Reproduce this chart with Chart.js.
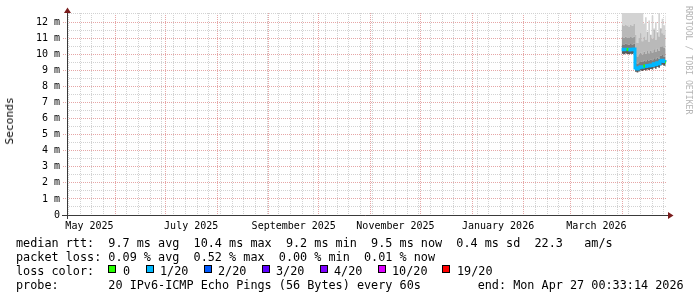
<!DOCTYPE html>
<html>
<head>
<meta charset="UTF-8"/>
<title>Smokeping — median rtt, last 360 days</title>
<script src="https://cdn.jsdelivr.net/npm/chart.js@4.4.3/dist/chart.umd.min.js"></script>
<style>
  *{box-sizing:border-box;margin:0;padding:0}
  body{background:#fff;width:697px;height:297px;overflow:hidden}
  #wrap{position:relative;width:697px;height:297px;font-family:'DejaVu Sans Mono',monospace;color:#000}
  #wrap canvas{position:absolute;left:0;top:0}
  .ylab{position:absolute;left:10px;top:121px;font-size:11.2px;line-height:12px;transform:translate(-50%,-50%) rotate(-90deg);white-space:nowrap}
  .wm{position:absolute;left:683.5px;top:6px;font-size:8.2px;line-height:10px;color:#b4b4b4;writing-mode:vertical-rl;white-space:nowrap}
  .lg{position:absolute;left:16px;font-size:11.8px;line-height:14px;white-space:pre}
  .sw{position:absolute;width:8px;height:8px;border:1px solid #000;top:265px}
  .sl{position:absolute;top:263.5px;font-size:11.8px;line-height:14px;white-space:pre}
</style>
</head>
<body>
<div id="wrap">
  <canvas id="c" width="697" height="297"></canvas>
  <div class="ylab">Seconds</div>
  <div class="wm">RRDTOOL / TOBI OETIKER</div>
  <div class="lg" style="top:235.5px">median rtt:  9.7 ms avg  10.4 ms max  9.2 ms min  9.5 ms now  0.4 ms sd  22.3   am/s</div>
  <div class="lg" style="top:249.5px">packet loss: 0.09 % avg  0.52 % max  0.00 % min  0.01 % now</div>
  <div class="lg" style="top:263.5px">loss color:</div>
  <div id="lossLegend"></div>
  <div class="lg" style="top:277.5px">probe:       20 IPv6-ICMP Echo Pings (56 Bytes) every 60s        end: Mon Apr 27 00:33:14 2026</div>
</div>

<script>
// ─── data (x = days since 1 May 2025, y = ms) ─────────────────────────────────
const days = [334.6, 335.6, 336.6, 337.6, 338.6, 339.6, 340.6, 341.6, 342.6, 343.6,
              344.6, 345.6, 346.6, 347.6, 348.6, 349.6, 350.6, 351.6, 352.6, 353.6,
              354.6, 355.6, 356.6, 357.6, 358.6, 359.6, 360.6, 361.0];

const rttMedian = [10.30, 10.27, 10.31, 10.29, 10.26, 10.30, 10.28, 10.32, 9.14, 9.08,
                   9.16, 9.22, 9.19, 9.27, 9.23, 9.30, 9.26, 9.33, 9.29, 9.41,
                   9.35, 9.46, 9.40, 9.57, 9.62, 9.54, 9.49, 9.49];
// smoke: ping spread around the median, bottom to top
const rttLo     = [10.02, 10.00, 10.04, 10.01, 10.00, 10.03, 10.01, 10.05, 8.90, 8.86,
                   8.93, 8.98, 8.95, 9.02, 8.99, 9.05, 9.02, 9.08, 9.04, 9.15,
                   9.10, 9.20, 9.15, 9.30, 9.35, 9.28, 9.24, 9.24];
const rttQ1     = [10.62, 10.60, 10.65, 10.61, 10.58, 10.63, 10.60, 10.66, 9.48, 9.40,
                   9.50, 9.55, 9.52, 9.60, 9.56, 9.64, 9.58, 9.66, 9.62, 9.74,
                   9.68, 9.80, 9.72, 9.90, 9.95, 9.86, 9.82, 9.82];
const rttQ2     = [11.05, 11.02, 11.08, 11.04, 11.00, 11.06, 11.03, 11.10, 10.05, 9.85,
                   10.00, 10.10, 9.98, 10.15, 10.02, 10.20, 10.06, 10.22, 10.10, 10.30,
                   10.15, 10.35, 10.22, 10.45, 10.50, 10.40, 10.35, 10.35];
const rttQ3     = [11.80, 11.75, 11.85, 11.78, 11.72, 11.82, 11.76, 11.88, 11.20, 10.70,
                   11.00, 11.30, 10.80, 11.10, 10.90, 11.40, 10.75, 11.20, 10.95, 11.50,
                   10.90, 11.35, 11.10, 11.60, 11.30, 11.20, 11.45, 11.45];
const rttHi     = [12.60, 12.60, 12.60, 12.60, 12.60, 12.60, 12.60, 12.60, 12.60, 12.60,
                   12.60, 12.60, 12.60, 11.90, 12.30, 11.40, 12.10, 11.20, 12.40, 11.60,
                   12.00, 11.30, 12.60, 11.50, 12.20, 11.80, 12.40, 12.40];
// index into lossColors: 0 = no loss, 1 = 1/20
const lossLevel = [1, 1, 1, 0, 1, 1, 1, 1, 1, 1,
                   1, 1, 1, 0, 1, 1, 1, 1, 1, 1,
                   1, 1, 1, 1, 1, 1, 0, 0];

const lossColors = ['#26ff00', '#00b8ff', '#0059ff', '#5e00ff', '#7e00ff', '#dd00ff', '#ff0000'];
const lossLabels = ['0', '1/20', '2/20', '3/20', '4/20', '10/20', '19/20'];

// ─── axes ─────────────────────────────────────────────────────────────────────
const xMin = 2.04, xMax = 361.8;
const monthStarts = [31, 61, 92, 123, 153, 184, 214, 245, 276, 304, 335];
const labelDays   = [15.5, 76.5, 138, 199, 260.5, 319.5];
const xLabels     = ['May 2025', 'July 2025', 'September 2025', 'November 2025', 'January 2026', 'March 2026'];
const firstWeek = 3, weekStep = 7;

const yMax = 12.56;
const yLabels = ['0', '1 m', '2 m', '3 m', '4 m', '5 m', '6 m', '7 m', '8 m', '9 m', '10 m', '11 m', '12 m'];

const PINK = '#e6a6a6', GRAY = '#d2d2d2';
const smokeColors = ['#5a5a5a', '#7c7c7c', '#9c9c9c', '#b9b9b9', '#d3d3d3'];

// legend swatches
const swX  = [108, 146, 204, 262, 319.5, 378, 442];
const lblX = [123, 160, 218, 276, 334, 392, 457];
const lossLegend = document.getElementById('lossLegend');
lossLabels.forEach((t, i) => {
  lossLegend.insertAdjacentHTML('beforeend',
    `<div class="sw" style="left:${swX[i]}px;background:${lossColors[i]}"></div>` +
    `<div class="sl" style="left:${lblX[i]}px">${t}</div>`);
});

// ─── datasets ─────────────────────────────────────────────────────────────────
const xy = arr => days.map((d, i) => ({ x: d, y: arr[i] }));
function band(arr, color) {
  return { data: xy(arr), stepped: true, borderWidth: 0, pointRadius: 0,
           fill: '-1', backgroundColor: color, order: 1 };
}

const datasets = [
  { data: xy(rttLo), stepped: true, borderWidth: 0, pointRadius: 0, fill: false, order: 1 },
  band(rttMedian, smokeColors[0]),
  band(rttQ1, smokeColors[1]),
  band(rttQ2, smokeColors[2]),
  band(rttQ3, smokeColors[3]),
  band(rttHi, smokeColors[4]),
  { data: xy(rttMedian), stepped: true, borderWidth: 3, pointRadius: 0, fill: false,
    borderCapStyle: 'butt', order: 0, borderColor: lossColors[1],
    segment: { borderColor: c => lossColors[lossLevel[c.p0DataIndex]] } },
];

// minor grid positions (skip the ones covered by a major line)
const weekTicks = () => {
  const t = [];
  for (let d = firstWeek; d <= xMax; d += weekStep)
    if (!monthStarts.includes(d)) t.push({ value: d });
  return t;
};
const halfTicks = () => yLabels.map((l, i) => ({ value: i + 0.5 })).filter(t => t.value < yMax);

// ─── axis lines + arrows ──────────────────────────────────────────────────────
const axisArrows = {
  id: 'axisArrows',
  afterDraw(chart) {
    const { ctx, chartArea: a } = chart;
    ctx.save();
    ctx.strokeStyle = '#3a3a3a';
    ctx.lineWidth = 1;
    ctx.beginPath();
    ctx.moveTo(a.left - 5, a.bottom + 0.5); ctx.lineTo(a.right + 2, a.bottom + 0.5);
    ctx.moveTo(a.left + 0.5, a.bottom + 4); ctx.lineTo(a.left + 0.5, a.top - 1);
    ctx.stroke();
    ctx.fillStyle = '#7a1c1c';
    ctx.beginPath();
    ctx.moveTo(a.left - 3, a.top); ctx.lineTo(a.left + 4, a.top); ctx.lineTo(a.left + 0.5, a.top - 5.5);
    ctx.closePath(); ctx.fill();
    ctx.beginPath();
    ctx.moveTo(a.right + 1, a.bottom - 3); ctx.lineTo(a.right + 1, a.bottom + 4); ctx.lineTo(a.right + 6.5, a.bottom + 0.5);
    ctx.closePath(); ctx.fill();
    ctx.restore();
  }
};

const MONO = { family: "'DejaVu Sans Mono', monospace", size: 10 };
// grid-only scales: zero size, placed on the top/right so they don't stack with the labelled axes
const gridOnly = (pos, ticksFn, color, min, max) => ({
  type: 'linear', position: pos, min, max,
  afterBuildTicks: s => { s.ticks = ticksFn(); },
  afterFit: s => { if (pos === 'top') s.height = 0; else s.width = 0; },
  grid: { color, lineWidth: 1, drawTicks: false },
  border: { display: false, dash: [1, 1] },
  ticks: { display: false, autoSkip: false },
});

new Chart(document.getElementById('c'), {
  type: 'line',
  data: { datasets },
  plugins: [axisArrows],
  options: {
    responsive: false, animation: false, devicePixelRatio: 1,
    layout: { padding: { top: 13, right: 30, bottom: 0, left: 0 } },
    plugins: { legend: { display: false }, tooltip: { enabled: false } },
    scales: {
      // month labels, centred mid-month, no grid
      x: {
        type: 'linear', position: 'bottom', min: xMin, max: xMax,
        afterBuildTicks: s => { s.ticks = labelDays.map(v => ({ value: v })); },
        afterFit: s => { s.height = 82; },
        grid: { display: false, drawTicks: false },
        border: { display: false },
        ticks: { autoSkip: false, maxRotation: 0, color: '#000', font: MONO, padding: 5,
                 callback: (v, i) => xLabels[i] },
      },
      xWeek:  gridOnly('top', weekTicks, GRAY, xMin, xMax),
      xMonth: gridOnly('top', () => monthStarts.map(v => ({ value: v })), PINK, xMin, xMax),
      y: {
        type: 'linear', position: 'left', min: 0, max: yMax,
        afterBuildTicks: s => { s.ticks = yLabels.map((l, i) => ({ value: i })); },
        afterFit: s => { s.width = 67; },
        grid: { color: PINK, lineWidth: 1, drawTicks: true, tickLength: 4,
                tickColor: PINK, tickBorderDash: [1, 1] },
        border: { display: false, dash: [1, 1] },
        ticks: { autoSkip: false, color: '#000', font: MONO, padding: 3,
                 callback: (v, i) => yLabels[i] },
      },
      yMinor: gridOnly('right', halfTicks, GRAY, 0, yMax),
    },
  },
});
</script>
</body>
</html>
